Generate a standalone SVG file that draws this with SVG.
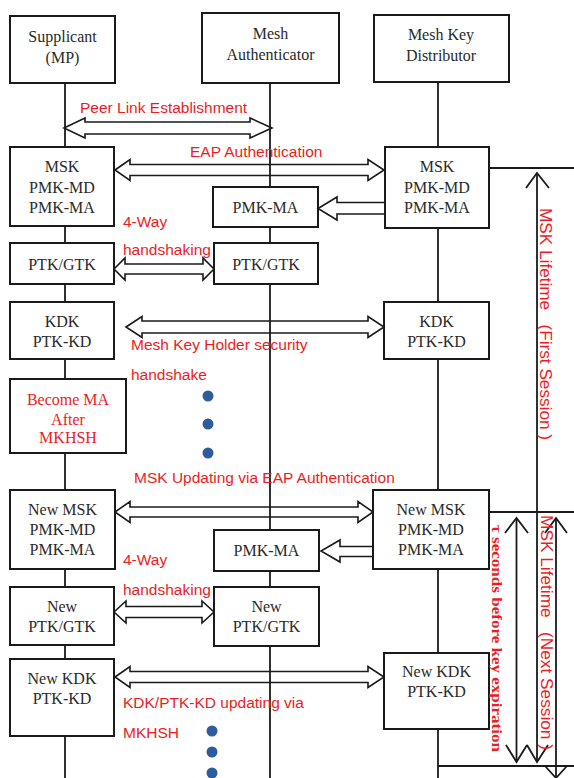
<svg xmlns="http://www.w3.org/2000/svg" width="574" height="778" viewBox="0 0 574 778">
<defs>
<style>
.box{fill:#fff;stroke:#1a1a1a;stroke-width:2}
.life{stroke:#1a1a1a;stroke-width:1.8;fill:none}
.arr{fill:none;stroke:#1a1a1a;stroke-width:1.6;stroke-linejoin:miter}
.bt{font-family:"Liberation Serif","Times New Roman",serif;font-size:16px;fill:#2a2a2a;text-anchor:middle}
.rt{font-family:"Liberation Serif","Times New Roman",serif;font-size:16px;fill:#ed1c24;text-anchor:middle}
.lbl{font-family:"Liberation Sans",Arial,sans-serif;font-size:15.5px;fill:#ed1c24}
.vl{font-family:"Liberation Sans",Arial,sans-serif;font-size:16px;fill:#ed1c24}
.vb{font-family:"Liberation Serif","Times New Roman",serif;font-size:15px;font-weight:bold;fill:#ed1c24}
.dot{fill:#2f5d9c}
.ln{stroke:#1a1a1a;stroke-width:1.8;fill:none}
</style>
</defs>
<rect width="574" height="778" fill="#fff"/>

<g id="lifelines">
<path class="life" d="M65 83V778"/>
<path class="life" d="M270 83V778"/>
<path class="life" d="M438 82V778"/>
</g>

<g id="n-supplicant"><rect class="box" x="10" y="16" width="105" height="67"/><text class="bt" x="62.5" y="42">Supplicant</text><text class="bt" x="62.5" y="63">(MP)</text></g>
<g id="n-ma"><rect class="box" x="202" y="13" width="137" height="70"/><text class="bt" x="270.5" y="39">Mesh</text><text class="bt" x="270.5" y="60">Authenticator</text></g>
<g id="n-mkd"><rect class="box" x="374" y="15" width="135" height="67"/><text class="bt" x="441" y="40">Mesh Key</text><text class="bt" x="441" y="61">Distributor</text></g>

<g id="n-msk-s"><rect class="box" x="10" y="147" width="104" height="79"/><text class="bt" x="62" y="172">MSK</text><text class="bt" x="62" y="193">PMK-MD</text><text class="bt" x="62" y="213">PMK-MA</text></g>
<g id="n-msk-d"><rect class="box" x="385" y="147" width="104" height="81"/><text class="bt" x="437" y="172">MSK</text><text class="bt" x="437" y="193">PMK-MD</text><text class="bt" x="437" y="213">PMK-MA</text></g>
<g id="n-pmkma-a"><rect class="box" x="213" y="187" width="105" height="40"/><text class="bt" x="265.5" y="213">PMK-MA</text></g>
<g id="n-ptk-s"><rect class="box" x="10" y="243" width="104" height="41"/><text class="bt" x="62" y="270">PTK/GTK</text></g>
<g id="n-ptk-a"><rect class="box" x="214" y="243" width="104" height="41"/><text class="bt" x="266" y="270">PTK/GTK</text></g>
<g id="n-kdk-s"><rect class="box" x="10" y="302" width="104" height="57"/><text class="bt" x="62" y="327">KDK</text><text class="bt" x="62" y="347">PTK-KD</text></g>
<g id="n-kdk-d"><rect class="box" x="384" y="302" width="105" height="57"/><text class="bt" x="436.5" y="327">KDK</text><text class="bt" x="436.5" y="347">PTK-KD</text></g>
<g id="n-become"><rect class="box" x="10" y="379" width="116" height="74"/><text class="rt" x="68" y="405">Become MA</text><text class="rt" x="68" y="425">After</text><text class="rt" x="68" y="443">MKHSH</text></g>

<g id="n-newmsk-s"><rect class="box" x="10" y="490" width="105" height="79"/><text class="bt" x="62.5" y="515">New MSK</text><text class="bt" x="62.5" y="535">PMK-MD</text><text class="bt" x="62.5" y="555">PMK-MA</text></g>
<g id="n-newmsk-d"><rect class="box" x="373" y="490" width="116" height="79"/><text class="bt" x="431" y="515">New MSK</text><text class="bt" x="431" y="535">PMK-MD</text><text class="bt" x="431" y="555">PMK-MA</text></g>
<g id="n-pmkma-a2"><rect class="box" x="214" y="530" width="105" height="41"/><text class="bt" x="266.5" y="556">PMK-MA</text></g>
<g id="n-newptk-s"><rect class="box" x="10" y="587" width="104" height="58"/><text class="bt" x="62" y="612">New</text><text class="bt" x="62" y="632">PTK/GTK</text></g>
<g id="n-newptk-a"><rect class="box" x="214" y="587" width="105" height="59"/><text class="bt" x="266.5" y="612">New</text><text class="bt" x="266.5" y="632">PTK/GTK</text></g>
<g id="n-newkdk-s"><rect class="box" x="10" y="659" width="104" height="77"/><text class="bt" x="62" y="684">New KDK</text><text class="bt" x="62" y="704">PTK-KD</text></g>
<g id="n-newkdk-d"><rect class="box" x="384" y="653" width="105" height="76"/><text class="bt" x="436.5" y="677">New KDK</text><text class="bt" x="436.5" y="697">PTK-KD</text></g>

<g id="connectors">
<!-- Peer link -->
<path class="arr" d="M64 128L85 118V122H250V118L272 128L250 138V134H85V138Z"/>
<!-- EAP -->
<path class="arr" d="M115 170L130 159.5V164.5H368V159.5L384 170L368 180.5V175.5H130V180.5Z"/>
<!-- PMK-MA from MKD -->
<path class="arr" d="M385 202.5H337V197L318 208.5L337 220V214H385"/>
<!-- PTK/GTK -->
<path class="arr" d="M114 269L125 258V264H203V258L214 269L203 280V274H125V280Z"/>
<!-- KDK -->
<path class="arr" d="M126 327L142 316.5V321H368V316.5L384 327L368 337.5V333H142V337.5Z"/>
<!-- New MSK -->
<path class="arr" d="M115 512L130 501.5V507H358V501.5L373 512L358 522.5V517H130V522.5Z"/>
<!-- PMK-MA 2 -->
<path class="arr" d="M373 546.5H340V540L321 551L340 562V556.5H373"/>
<!-- New PTK/GTK -->
<path class="arr" d="M114 612L126 601V606.5H202V601L214 612L202 623V617.5H126V623Z"/>
<!-- New KDK -->
<path class="arr" d="M115 677L130 666.5V671.5H368V666.5L384 677L368 687.5V682.5H130V687.5Z"/>

<!-- right side lines -->
<path class="ln" d="M489 168H574"/>
<path class="ln" d="M489 512H574"/>
<path class="ln" d="M438 766H574"/>
<!-- MSK lifetime first session -->
<path class="ln" d="M537 174V761"/>
<path class="ln" d="M526 188L537 173L549 188"/>
<path class="ln" d="M527 745L537 762L548 745"/>
<!-- tau arrow -->
<path class="ln" d="M516.5 519V761"/>
<path class="ln" d="M505 533L516.5 518L528 533"/>
<path class="ln" d="M506 745L516.5 762L527 745"/>
<!-- next session -->
<path class="ln" d="M556 519V778"/>
<path class="ln" d="M545 533L556 518L567 533"/>
<path class="ln" d="M545 766L556 778L567 766"/>
</g>

<g id="labels">
<text class="lbl" x="80" y="113">Peer Link Establishment</text>
<text class="lbl" x="190" y="157">EAP Authentication</text>
<text class="lbl" x="123" y="227">4-Way</text>
<text class="lbl" x="123" y="255">handshaking</text>
<text class="lbl" x="131" y="350">Mesh Key Holder security</text>
<text class="lbl" x="131" y="380">handshake</text>
<text class="lbl" x="134" y="483">MSK Updating via EAP Authentication</text>
<text class="lbl" x="123" y="565">4-Way</text>
<text class="lbl" x="123" y="595">handshaking</text>
<text class="lbl" x="123" y="708">KDK/PTK-KD updating via</text>
<text class="lbl" x="123" y="738">MKHSH</text>
<text class="vl" transform="translate(539.5 208) rotate(90)" textLength="232" lengthAdjust="spacingAndGlyphs" xml:space="preserve">MSK Lifetime   (First Session )</text>
<text class="vl" transform="translate(540.5 515) rotate(90)" textLength="235" lengthAdjust="spacingAndGlyphs" xml:space="preserve">MSK Lifetime   (Next Session )</text>
<text class="vb" transform="translate(492 525) rotate(90)" textLength="227" lengthAdjust="spacingAndGlyphs">τ seconds before key expiration</text>
</g>

<g id="dots">
<circle class="dot" cx="208" cy="396" r="5.5"/>
<circle class="dot" cx="208" cy="424" r="5.5"/>
<circle class="dot" cx="208" cy="453" r="5.5"/>
<circle class="dot" cx="212" cy="731" r="5.5"/>
<circle class="dot" cx="212" cy="752" r="5.5"/>
<circle class="dot" cx="212" cy="773" r="5.5"/>
</g>
</svg>
